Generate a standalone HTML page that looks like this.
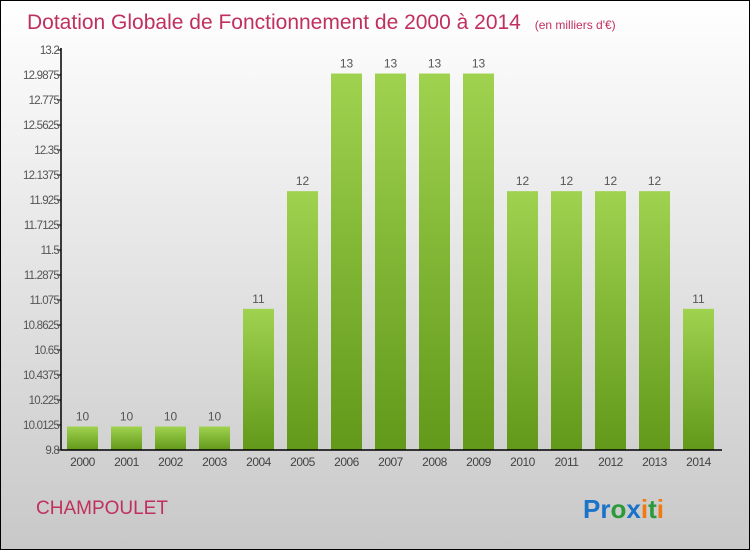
<!DOCTYPE html>
<html><head><meta charset="utf-8"><style>
body{margin:0}
svg{display:block;font-family:"Liberation Sans",sans-serif}
</style></head><body>
<svg width="750" height="550" viewBox="0 0 750 550">
<defs>
<linearGradient id="bg" x1="0" y1="0" x2="0" y2="1"><stop offset="0" stop-color="#ffffff"/><stop offset="1" stop-color="#c8c8c8"/></linearGradient>
<linearGradient id="bar" x1="0" y1="0" x2="0" y2="1"><stop offset="0" stop-color="#9fd24f"/><stop offset="1" stop-color="#62991a"/></linearGradient>
</defs>
<rect x="0.5" y="0.5" width="749" height="549" fill="url(#bg)" stroke="#000"/>
<text x="27" y="29" font-size="21" fill="#c0305e">Dotation Globale de Fonctionnement de 2000 à 2014 <tspan font-size="12" dx="8">(en milliers d'€)</tspan></text>
<g id="plot"></g>
<text x="36" y="514" font-size="19" fill="#c0305e">CHAMPOULET</text>
<text x="583" y="518" font-size="26" font-weight="bold"><tspan fill="#1a73c8">Pr</tspan><tspan fill="#2a9a3a">o</tspan><tspan fill="#1a73c8">x</tspan><tspan fill="#f07a10">i</tspan><tspan fill="#2a9a3a">t</tspan><tspan fill="#f07a10">i</tspan></text>
</svg>
<script>
const categories=["2000","2001","2002","2003","2004","2005","2006","2007","2008","2009","2010","2011","2012","2013","2014"];
const values=[10,10,10,10,11,12,13,13,13,13,12,12,12,12,11];
const valueLabels=["10","10","10","10","11","12","13","13","13","13","12","12","12","12","11"];
const tickLabels=["9.8","10.0125","10.225","10.4375","10.65","10.8625","11.075","11.2875","11.5","11.7125","11.925","12.1375","12.35","12.5625","12.775","12.9875","13.2"];
const yMin=9.8,yMax=13.2;
const NS="http://www.w3.org/2000/svg";
const g=document.getElementById('plot');
const y0=450,y1=50,xL=61,xR=722;
function yS(v){return y0-(v-yMin)/(yMax-yMin)*(y0-y1);}
function xS(i){return 67+i*44;}
function mk(t,a,txt){const e=document.createElementNS(NS,t);for(const k in a)e.setAttribute(k,a[k]);if(txt!==undefined)e.textContent=txt;g.appendChild(e);return e;}
tickLabels.forEach((t,i)=>{const v=yMin+i*(yMax-yMin)/(tickLabels.length-1);const y=yS(v);
const l=mk('line',{x1:xL-4,x2:xL,y1:y,y2:y,stroke:'#000'});


const tx=mk('text',{x:xL-2,y:y+4,'font-size':11.5,fill:'#555','text-anchor':'end','letter-spacing':'-0.8'},t);

});
categories.forEach((c,i)=>{const x=xS(i),y=yS(values[i]);
const r=mk('rect',{x:x,y:y,width:31,height:y0-y,fill:'url(#bar)'});


const vl=mk('text',{x:x+15.5,y:y-6,'font-size':12,fill:'#555','text-anchor':'middle'},valueLabels[i]);


const xl=mk('text',{x:x+15.5,y:466,'font-size':12,fill:'#444','text-anchor':'middle','letter-spacing':'-0.5'},c);

});
const ya=mk('line',{x1:xL,x2:xL,y1:y1-2,y2:y0,stroke:'#000','stroke-width':1.5});


const xa=mk('line',{x1:xL,x2:xR,y1:y0,y2:y0,stroke:'#000','stroke-width':1.5});


</script>
</body></html>
